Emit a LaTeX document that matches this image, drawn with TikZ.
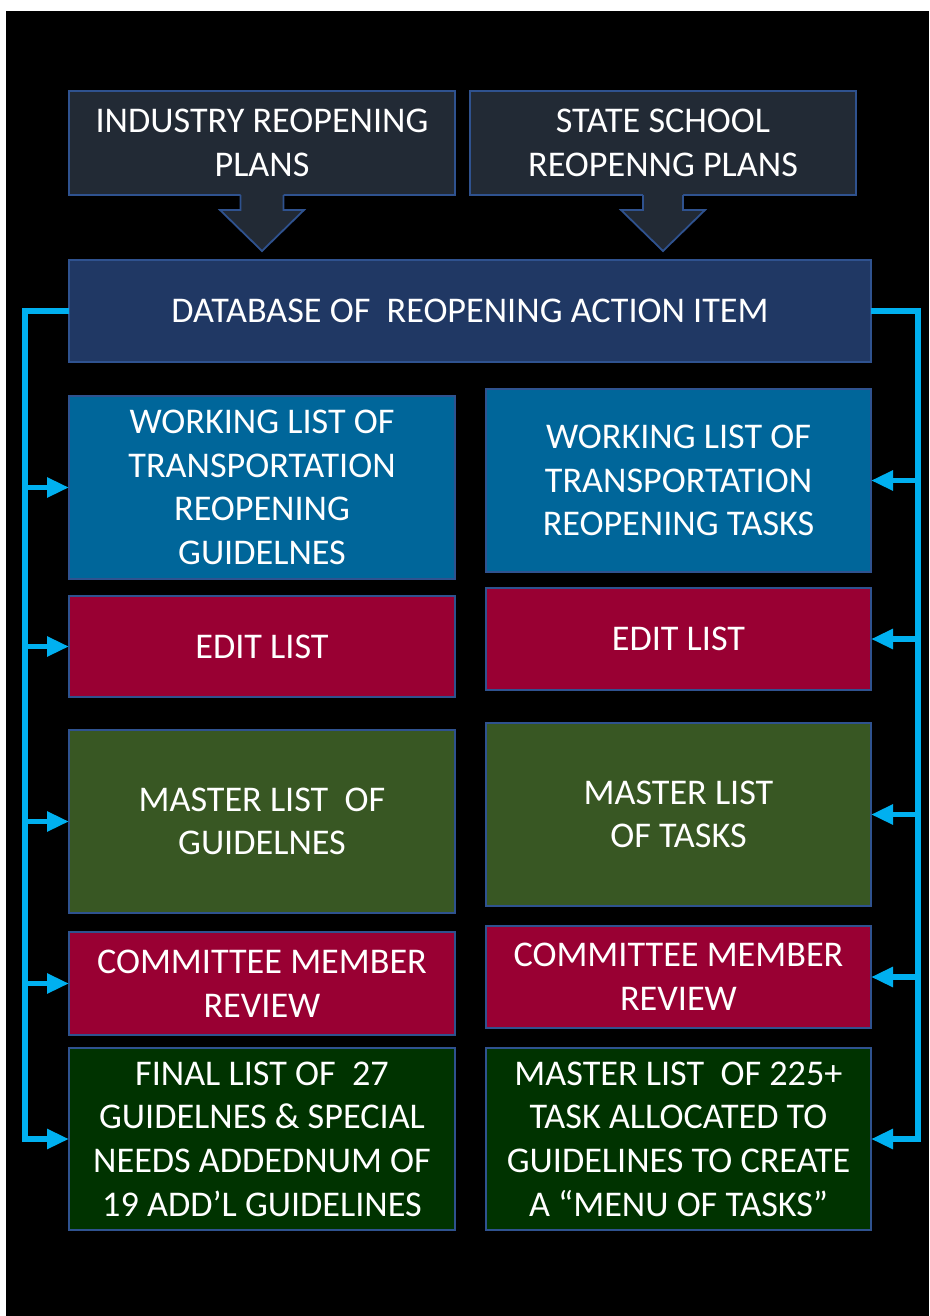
\documentclass[tikz,border=0pt]{standalone}
\usepackage{fontspec}
\setmainfont{Carlito}
\usetikzlibrary{arrows.meta,calc}
\definecolor{topfill}{HTML}{222A35}
\definecolor{dbfill}{HTML}{203864}
\definecolor{wfill}{HTML}{00669A}
\definecolor{efill}{HTML}{990033}
\definecolor{mfill}{HTML}{385723}
\definecolor{ffill}{HTML}{003300}
\definecolor{edgecol}{HTML}{2F528F}
\definecolor{conncol}{HTML}{00B0F0}
\begin{document}
\begin{tikzpicture}[x=1pt,y=-1pt,
  box/.style={draw=edgecol, line width=1.8pt, rectangle, inner sep=0pt, outer sep=0pt,
    text=white, align=center, font=\fontsize{36.2}{43.7}\selectfont},
  conn/.style={draw=conncol, line width=5.5pt, line join=miter, -{Triangle[length=22pt,width=19pt]}},
  blockarrow/.style={fill=topfill},
  blockedge/.style={draw=edgecol, line width=1.8pt}]
\useasboundingbox (0,0) rectangle (929,1316);
\fill[white] (0,0) rectangle (929,1316);
\fill[black] (6,11) rectangle (929,1316);

% top boxes
\node[box, fill=topfill, minimum width=386pt, minimum height=104pt] (t1) at (262,143) {INDUSTRY REOPENING\\PLANS};
\node[box, fill=topfill, minimum width=386pt, minimum height=104pt] (t2) at (663,143) {STATE SCHOOL\\REOPENNG PLANS};

% block arrows
\begin{scope}[shift={(t1.south)}]
  \fill[blockarrow] (-21.5,-1) -- (-21.5,15) -- (-42,15) -- (0,56) -- (42,15) -- (21.5,15) -- (21.5,-1) -- cycle;
  \draw[blockedge] (-21.5,0) -- (-21.5,15) -- (-42,15) -- (0,56) -- (42,15) -- (21.5,15) -- (21.5,0);
\end{scope}
\begin{scope}[shift={(t2.south)}]
  \fill[blockarrow] (-20,-1) -- (-20,15) -- (-42,15) -- (0,56) -- (42,15) -- (20,15) -- (20,-1) -- cycle;
  \draw[blockedge] (-20,0) -- (-20,15) -- (-42,15) -- (0,56) -- (42,15) -- (20,15) -- (20,0);
\end{scope}

% database
\node[box, fill=dbfill, minimum width=802pt, minimum height=102pt] (db) at (470,311) {DATABASE OF~ REOPENING ACTION ITEM};

% left column
\node[box, fill=wfill, minimum width=386pt, minimum height=183pt] (lw) at (262,487.5) {WORKING LIST OF\\TRANSPORTATION\\REOPENING\\GUIDELNES};
\node[box, fill=efill, minimum width=386pt, minimum height=101pt] (le) at (262,646.5) {EDIT LIST};
\node[box, fill=mfill, minimum width=386pt, minimum height=183pt] (lm) at (262,821.5) {MASTER LIST~ OF\\GUIDELNES};
\node[box, fill=efill, minimum width=386pt, minimum height=103pt] (lc) at (262,983.5) {COMMITTEE MEMBER\\REVIEW};
\node[box, fill=ffill, minimum width=386pt, minimum height=182pt] (lf) at (262,1139) {FINAL LIST OF~ 27\\GUIDELNES \& SPECIAL\\NEEDS ADDEDNUM OF\\19 ADD’L GUIDELINES};

% right column
\node[box, fill=wfill, minimum width=385pt, minimum height=183pt] (rw) at (678.5,480.5) {WORKING LIST OF\\TRANSPORTATION\\REOPENING TASKS};
\node[box, fill=efill, minimum width=385pt, minimum height=102pt] (re) at (678.5,639) {EDIT LIST};
\node[box, fill=mfill, minimum width=385pt, minimum height=183pt] (rm) at (678.5,814.5) {MASTER LIST\\OF TASKS};
\node[box, fill=efill, minimum width=385pt, minimum height=102pt] (rc) at (678.5,977) {COMMITTEE MEMBER\\REVIEW};
\node[box, fill=ffill, minimum width=385pt, minimum height=182pt] (rf) at (678.5,1139) {MASTER LIST~ OF 225+\\TASK ALLOCATED TO\\GUIDELINES TO CREATE\\A “MENU OF TASKS”};

% connectors left
\foreach \b in {lw,le,lm,lc,lf}
  \draw[conn] (db.west) -- ++(-44,0) |- (\b.west);
% connectors right
\foreach \b in {rw,re,rm,rc,rf}
  \draw[conn] (db.east) -- ++(47,0) |- (\b.east);
\end{tikzpicture}
\end{document}
